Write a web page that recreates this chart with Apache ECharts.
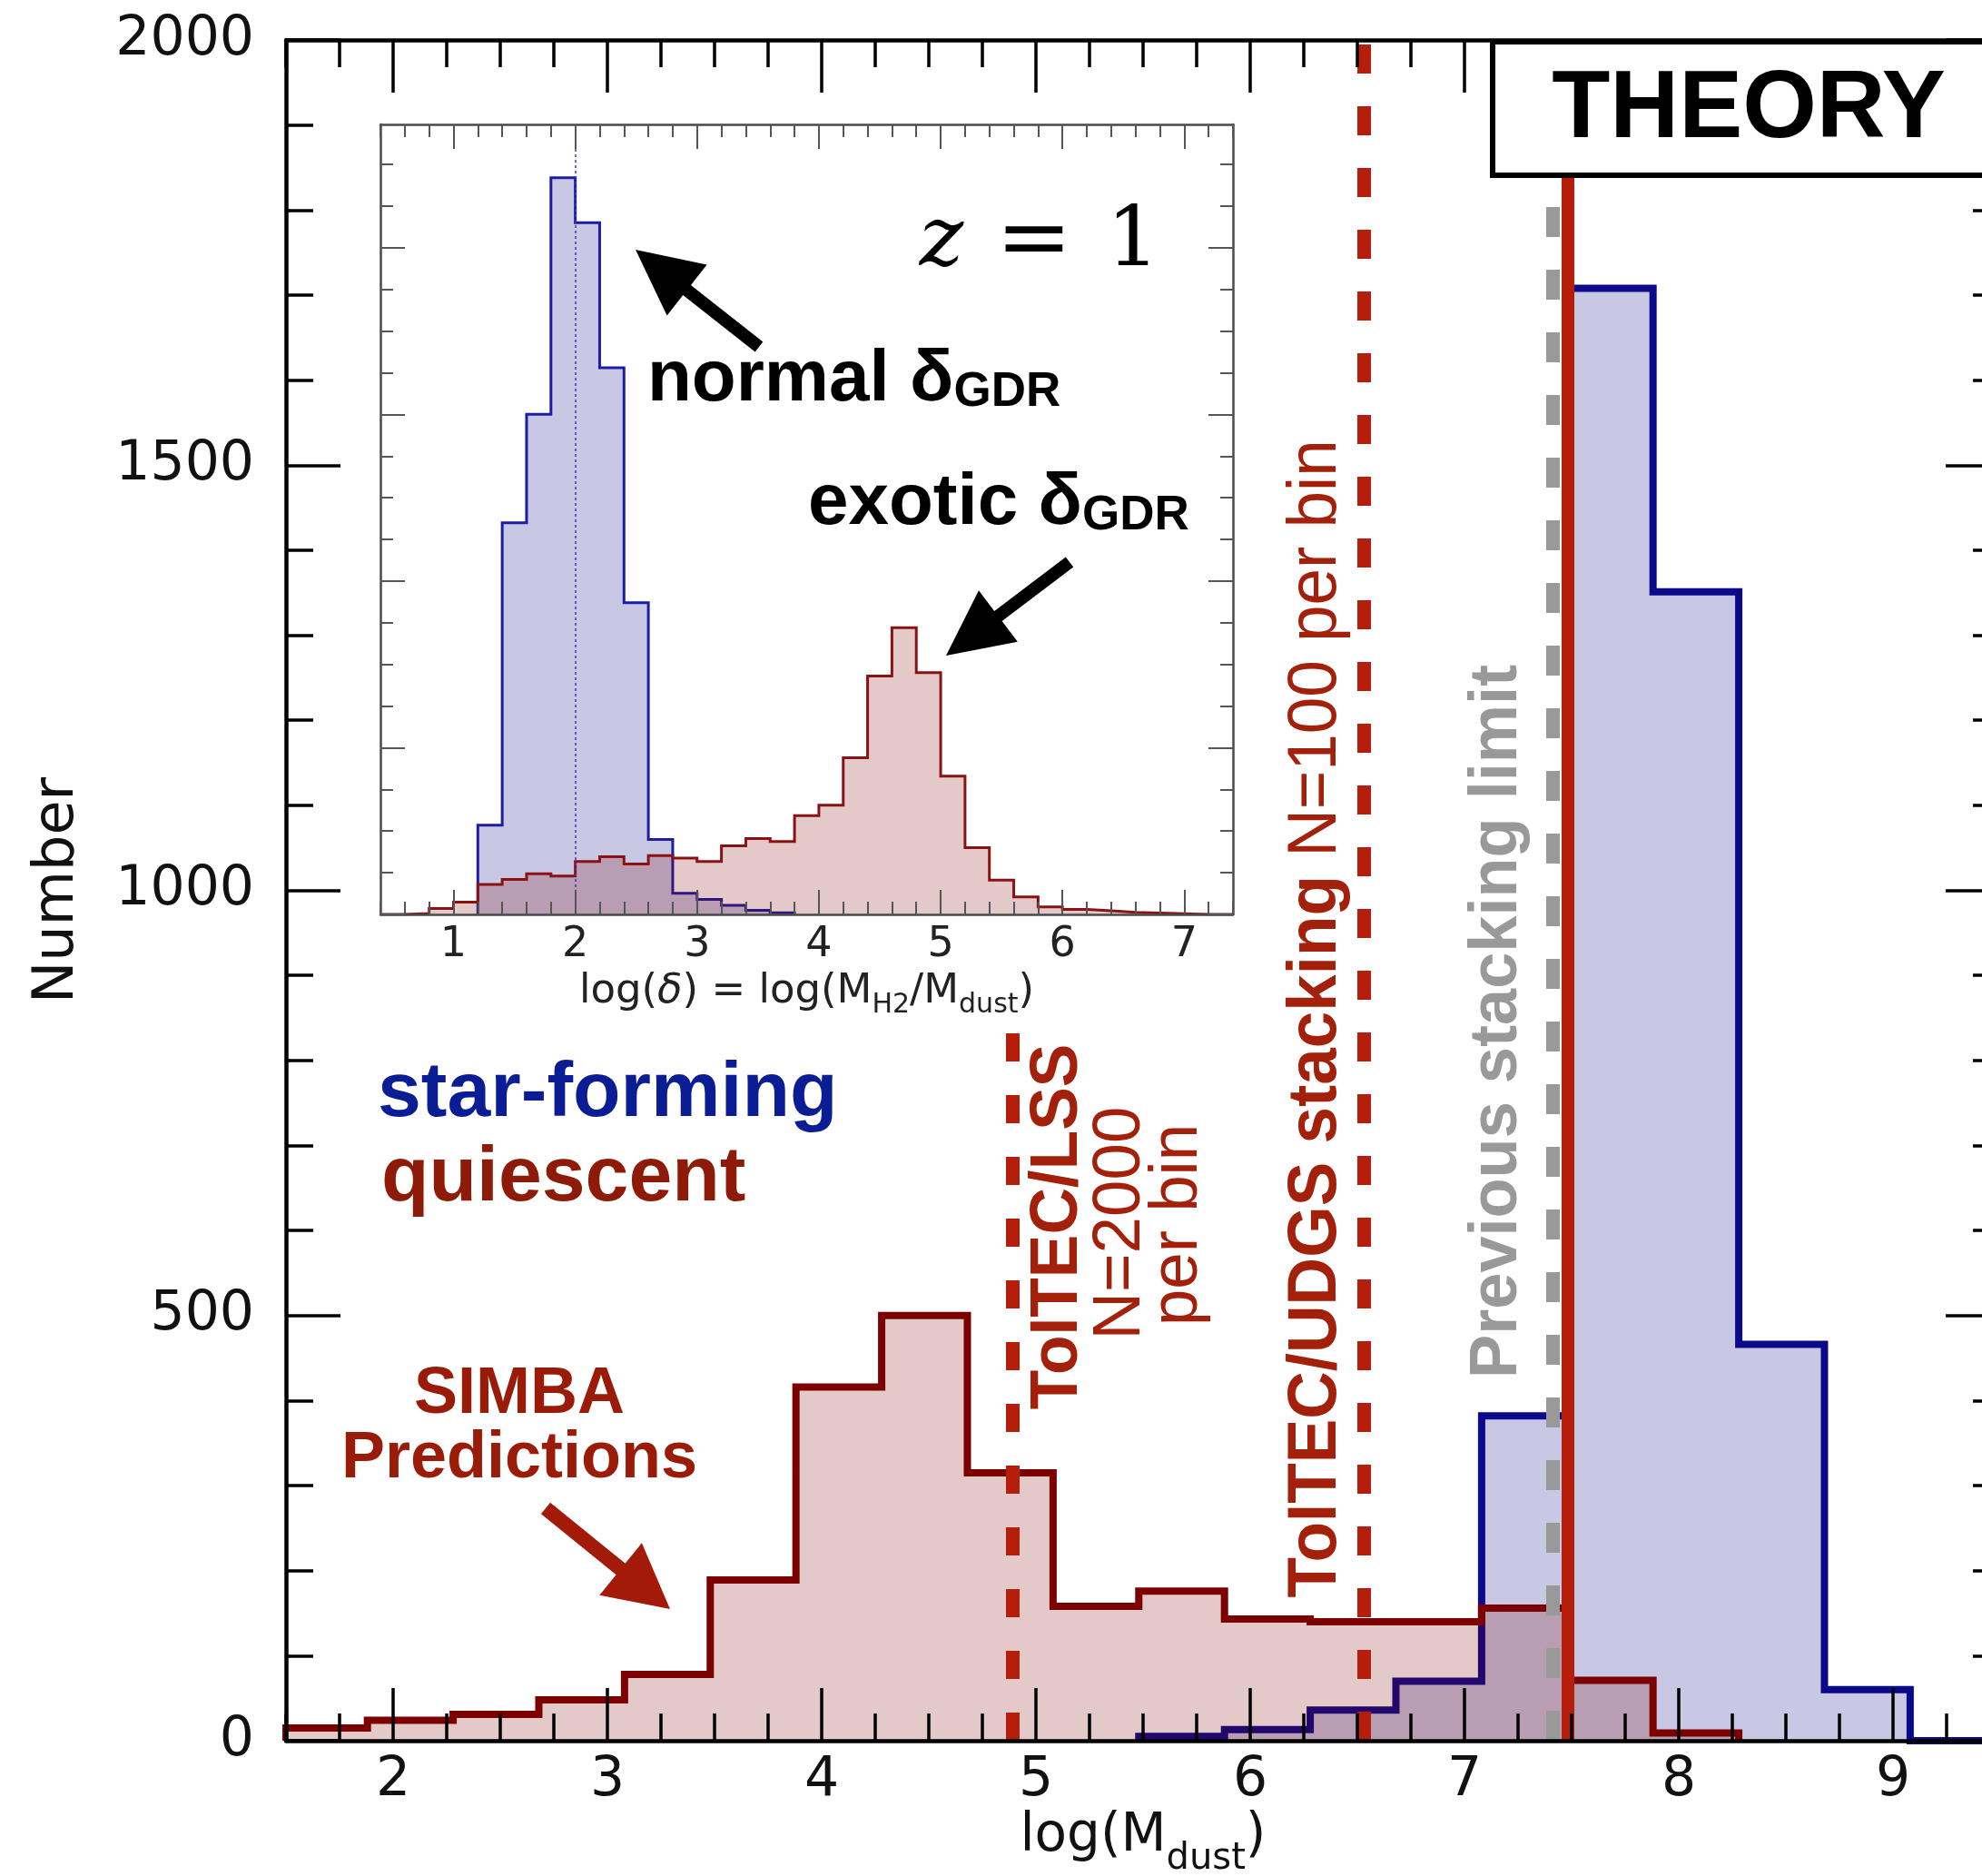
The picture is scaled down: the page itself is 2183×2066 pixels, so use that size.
<!DOCTYPE html>
<html><head><meta charset="utf-8">
<script src="https://cdn.jsdelivr.net/npm/echarts@6/dist/echarts.min.js"></script>
<style>html,body{margin:0;padding:0;background:#fff}#c{width:2183px;height:2066px}</style>
</head><body><div id="c"></div>
<script>
// ---------------- data ----------------
// main histogram: bins of width 0.4 in log(M_dust), first bin starts at 1.48
const mainBinStart = 1.48;
const mainBinWidth = 0.4;
const quiescentCounts = [15, 24, 31, 48, 78, 189, 416, 500, 315, 158, 176, 143, 140, 140, 156, 71, 9];
const starFormingCounts = [null, null, null, null, null, null, null, null, null, null,
  5, 13, 36, 70, 382, 1708, 1351, 466, 60, 0, 0];
const xMajorTicks = [2, 3, 4, 5, 6, 7, 8, 9];
// vertical limit lines (log M_dust)
const lssLimit = 4.89, lssTop = 835;
const udgsLimit = 6.53;
const previousLimit = 7.41;
const theoryLimit = 7.48;
// inset histogram: bins of width 0.2 in log(delta), first bin starts at 0.4 (units of major tick)
const insetBinStart = 0.4;
const insetBinWidth = 0.2;
const insetQuiescent = [0, 0.005, 0.036, 0.073, 0.18, 0.21, 0.244, 0.23, 0.317, 0.346, 0.302, 0.353,
  0.338, 0.317, 0.411, 0.455, 0.437, 0.593, 0.655, 0.94, 1.43, 1.72, 1.45, 0.83, 0.40, 0.205,
  0.105, 0.045, 0.03, 0.022, 0.012, 0.008, 0.004, 0, 0];
const insetStarForming = [null, null, null, null, 0.535, 2.35, 3.0, 4.42, 4.15, 3.28, 1.87, 0.45,
  0.127, 0.09, 0.055, 0.025, 0.01];
const insetXTicks = [1, 2, 3, 4, 5, 6, 7];
const insetNormalGDR = 2;
const insetYMajor = [0, 1, 2, 3, 4];
const insetYMinor = [0.25, 0.5, 0.75, 1.25, 1.5, 1.75, 2.25, 2.5, 2.75, 3.25, 3.5, 3.75, 4.25, 4.5];
const insetYMax = 4.74;

// ---------------- helpers ----------------
function stepData(start, width, vals) {
  const pts = [];
  let first = true, lastX = null;
  vals.forEach((v, i) => {
    if (v === null) return;
    const x = +(start + i * width).toFixed(4);
    if (first) { pts.push([x, 0]); first = false; }
    pts.push([x, v]);
    lastX = +(start + (i + 1) * width).toFixed(4);
  });
  pts.push([lastX, 0]);
  return pts;
}
function txt(x, y, text, o) {
  const st = {
    text: text, fill: o.color || '#000', fontSize: o.size, fontFamily: o.family || 'Liberation Sans',
    fontWeight: o.weight || 'normal', fontStyle: o.fstyle || 'normal',
    align: o.align || 'center', verticalAlign: o.valign || 'middle',
    textAlign: o.align || 'center', textVerticalAlign: o.valign || 'middle'
  };
  if (o.rich) st.rich = o.rich;
  return { type: 'text', x: x, y: y, rotation: o.rot || 0, scaleX: o.sx || 1, scaleY: 1, z: 100, silent: true, style: st };
}
function arrow(tail, tip, color, shaft, headLen, headW) {
  const dx = tip[0] - tail[0], dy = tip[1] - tail[1], L = Math.hypot(dx, dy);
  const ux = dx / L, uy = dy / L, px = -uy, py = ux;
  const bx = tip[0] - ux * headLen, by = tip[1] - uy * headLen;
  const pts = [
    [tail[0] + px * shaft / 2, tail[1] + py * shaft / 2],
    [bx + px * shaft / 2, by + py * shaft / 2],
    [bx + px * headW / 2, by + py * headW / 2],
    [tip[0], tip[1]],
    [bx - px * headW / 2, by - py * headW / 2],
    [bx - px * shaft / 2, by - py * shaft / 2],
    [tail[0] - px * shaft / 2, tail[1] - py * shaft / 2]
  ];
  return { type: 'polygon', z: 100, silent: true, shape: { points: pts }, style: { fill: color } };
}
const MAIN_FONT = 'DejaVu Sans';
function ax(o) {
  return {
    type: 'value', gridIndex: o.grid, position: o.pos, offset: o.offset || 0, min: o.min, max: o.max, z: 10, silent: true,
    interval: o.interval,
    axisLine: { show: !!o.line, onZero: false, lineStyle: { color: o.lineColor || '#000', width: o.lineWidth || 4.5 } },
    axisTick: Object.assign({ show: o.noTicks ? false : true, inside: o.outside ? false : true, length: o.tickLen || 10,
      lineStyle: { color: o.tickColor || '#000', width: o.tickWidth || 3.5 } },
      o.ticks ? { customValues: o.ticks } : {}),
    axisLabel: o.label ? Object.assign({ show: true, margin: o.label.margin, fontSize: o.label.size,
      fontFamily: MAIN_FONT, color: o.label.color || '#111', formatter: v => String(v),
      showMinLabel: true, showMaxLabel: true, hideOverlap: false },
      o.ticks ? { customValues: o.ticks } : {}) : { show: false },
    splitLine: { show: false },
    minorTick: { show: false }, minorSplitLine: { show: false }
  };
}

const MAIN_H = 1873, INSET_H = 870;

// ---------------- axes ----------------
const xMain = ax({ grid: 0, pos: 'bottom', min: 1.5, max: 9.5, line: true, noTicks: true, ticks: xMajorTicks,
  label: { margin: 14, size: 60 } });
xMain.name = '{n|log(M}{s|dust}{n|)}';
xMain.nameLocation = 'middle';
xMain.nameGap = 77;
xMain.nameMoveOverlap = false;
xMain.nameTextStyle = { rich: {
  n: { fontSize: 58, lineHeight: 58, verticalAlign: 'top', fontFamily: MAIN_FONT, color: '#111' },
  s: { fontSize: 40, lineHeight: 40, padding: [34, 0, 0, 0], verticalAlign: 'top', fontFamily: MAIN_FONT, color: '#111' } } };

const yMain = ax({ grid: 0, pos: 'left', min: 0, max: 2000, interval: 500, line: true, tickLen: 60,
  label: { margin: 35, size: 60 } });
yMain.name = 'Number';
yMain.nameLocation = 'middle';
yMain.nameGap = 220;
yMain.nameMoveOverlap = false;
yMain.nameTextStyle = { fontSize: 62, fontFamily: MAIN_FONT, color: '#111' };

const insetCommon = { lineColor: '#4a4a4a', lineWidth: 2.5, tickColor: '#555', tickWidth: 2 };

const xInset = ax(Object.assign({ grid: 1, pos: 'bottom', min: 0.4, max: 7.4, line: true, noTicks: true,
  ticks: insetXTicks, label: { margin: 11, size: 46, color: '#222' } }, insetCommon));
xInset.name = '{n|log(}{i|δ}{n|) = log(M}{s|H2}{n|/M}{s|dust}{n|)}';
xInset.nameLocation = 'middle';
xInset.nameGap = 63;
xInset.nameMoveOverlap = false;
xInset.nameTextStyle = { rich: {
  n: { fontSize: 45, lineHeight: 45, verticalAlign: 'top', fontFamily: MAIN_FONT, color: '#222' },
  i: { fontSize: 45, lineHeight: 45, verticalAlign: 'top', fontFamily: MAIN_FONT, fontStyle: 'italic', color: '#222' },
  s: { fontSize: 30, lineHeight: 30, padding: [22, 0, 0, 0], verticalAlign: 'top', fontFamily: MAIN_FONT, color: '#222' } } };

const xAxes = [
  xMain,
  // top ticks
  ax({ grid: 0, pos: 'top', min: 1.5, max: 9.5, line: true, tickLen: 58, ticks: xMajorTicks }),
  ax({ grid: 0, pos: 'top', min: 1.5, max: 9.5, interval: 0.25, tickLen: 30 }),
  // bottom ticks (pointing up into the plot)
  ax({ grid: 0, pos: 'top', offset: -MAIN_H, outside: true, min: 1.5, max: 9.5, tickLen: 58, ticks: xMajorTicks }),
  ax({ grid: 0, pos: 'top', offset: -MAIN_H, outside: true, min: 1.5, max: 9.5, interval: 0.25, tickLen: 30 }),
  // inset
  xInset,
  ax(Object.assign({ grid: 1, pos: 'top', min: 0.4, max: 7.4, line: true, tickLen: 27, ticks: insetXTicks }, insetCommon)),
  ax(Object.assign({ grid: 1, pos: 'top', min: 0.4, max: 7.4, interval: 0.2, tickLen: 14 }, insetCommon)),
  ax(Object.assign({ grid: 1, pos: 'top', offset: -INSET_H, outside: true, min: 0.4, max: 7.4, tickLen: 27, ticks: insetXTicks }, insetCommon)),
  ax(Object.assign({ grid: 1, pos: 'top', offset: -INSET_H, outside: true, min: 0.4, max: 7.4, interval: 0.2, tickLen: 14 }, insetCommon))
];
const yAxes = [
  yMain,
  ax({ grid: 0, pos: 'left', min: 0, max: 2000, interval: 100, tickLen: 30 }),
  ax({ grid: 0, pos: 'right', min: 0, max: 2000, interval: 500, line: true, tickLen: 60 }),
  ax({ grid: 0, pos: 'right', min: 0, max: 2000, interval: 100, tickLen: 30 }),
  ax(Object.assign({ grid: 1, pos: 'left', min: 0, max: insetYMax, line: true, tickLen: 27, ticks: insetYMajor }, insetCommon)),
  ax(Object.assign({ grid: 1, pos: 'left', min: 0, max: insetYMax, tickLen: 14, ticks: insetYMinor }, insetCommon)),
  ax(Object.assign({ grid: 1, pos: 'right', min: 0, max: insetYMax, line: true, tickLen: 27, ticks: insetYMajor }, insetCommon)),
  ax(Object.assign({ grid: 1, pos: 'right', min: 0, max: insetYMax, tickLen: 14, ticks: insetYMinor }, insetCommon))
];
const INSET_X = 5, INSET_Y = 4;

// ---------------- series ----------------
const RED_LINE = '#b41e0a';
const series = [
  { type: 'line', name: 'star-forming', xAxisIndex: 0, yAxisIndex: 0, step: 'end', symbol: 'none', silent: true, z: 2,
    data: stepData(mainBinStart, mainBinWidth, starFormingCounts),
    lineStyle: { color: '#0a0a8a', width: 8, join: 'miter' }, areaStyle: { color: 'rgba(0,0,128,0.215)', opacity: 1 } },
  { type: 'line', name: 'quiescent', xAxisIndex: 0, yAxisIndex: 0, step: 'end', symbol: 'none', silent: true, z: 3,
    data: stepData(mainBinStart, mainBinWidth, quiescentCounts),
    lineStyle: { color: '#7d0000', width: 8, join: 'miter' }, areaStyle: { color: 'rgba(128,0,0,0.21)', opacity: 1 },
    markLine: { silent: true, symbol: ['none', 'none'], label: { show: false }, animation: false, z: 5,
      emphasis: { disabled: true },
      data: [
        [{ coord: [lssLimit, 0], lineStyle: { color: RED_LINE, width: 15, type: [31, 37] } }, { coord: [lssLimit, lssTop] }],
        [{ coord: [udgsLimit, 0], lineStyle: { color: RED_LINE, width: 15, type: [32, 36] } }, { coord: [udgsLimit, 2000] }],
        [{ coord: [previousLimit, 0], lineStyle: { color: '#999999', width: 15, type: [33, 36] } }, { coord: [previousLimit, 2000] }],
        [{ coord: [theoryLimit, 0], lineStyle: { color: RED_LINE, width: 14, type: 'solid' } }, { coord: [theoryLimit, 2000] }]
      ] } },
  { type: 'line', name: 'inset star-forming', xAxisIndex: INSET_X, yAxisIndex: INSET_Y, step: 'end', symbol: 'none', silent: true, z: 2,
    data: stepData(insetBinStart, insetBinWidth, insetStarForming),
    lineStyle: { color: '#1c1ca6', width: 3, join: 'miter' }, areaStyle: { color: 'rgba(0,0,128,0.215)', opacity: 1 },
    markLine: { silent: true, symbol: ['none', 'none'], label: { show: false }, animation: false, z: 5,
      emphasis: { disabled: true },
      data: [[{ coord: [insetNormalGDR, 0], lineStyle: { color: '#3a3ac0', width: 1.5, type: [3, 3] } }, { coord: [insetNormalGDR, insetYMax] }]] } },
  { type: 'line', name: 'inset quiescent', xAxisIndex: INSET_X, yAxisIndex: INSET_Y, step: 'end', symbol: 'none', silent: true, z: 3,
    data: stepData(insetBinStart, insetBinWidth, insetQuiescent),
    lineStyle: { color: '#8a1212', width: 3, join: 'miter' }, areaStyle: { color: 'rgba(128,0,0,0.21)', opacity: 1 } }
];

// ---------------- annotations ----------------
const DRED = '#a3200a';
const graphics = [
  { type: 'rect', z: 100, silent: true, shape: { x: 1644, y: 46, width: 600, height: 147 },
    style: { fill: '#fff', stroke: '#000', lineWidth: 6 } },
  txt(1926, 122, 'THEORY', { size: 105, weight: 'bold' }),
  txt(416, 1205, 'star-forming', { size: 86, weight: 'bold', color: '#0b1d94', align: 'left' }),
  txt(420, 1298, 'quiescent', { size: 86, weight: 'bold', color: '#8e1b08', align: 'left' }),
  txt(572, 1536, 'SIMBA', { size: 72, weight: 'bold', color: '#9a1c08' }),
  txt(572, 1607, 'Predictions', { size: 72, weight: 'bold', color: '#9a1c08' }),
  arrow([601, 1661], [738, 1772], '#a31b08', 16, 70, 74),
  txt(1165, 1351, 'ToITEC/LSS', { size: 75, weight: 'bold', color: DRED, rot: Math.PI / 2, sx: 0.95 }),
  txt(1234, 1347, 'N=2000', { size: 75, color: DRED, rot: Math.PI / 2, sx: 0.97 }),
  txt(1297, 1349, 'per bin', { size: 75, color: DRED, rot: Math.PI / 2, sx: 0.97 }),
  txt(1450, 1122, '{b|ToITEC/UDGS stacking} {n|N=100 per bin}', { size: 76, color: DRED, rot: Math.PI / 2, sx: 0.958,
    rich: { b: { fontSize: 76, fontWeight: 'bold', fontFamily: 'Liberation Sans' }, n: { fontSize: 76, fontWeight: 'normal', fontFamily: 'Liberation Sans' } } }),
  txt(1650, 1125, 'Previous stacking limit', { size: 74, weight: 'bold', color: '#999999', rot: Math.PI / 2, sx: 0.975 }),
  // inset annotations
  txt(1037, 268, 'z', { size: 92, family: 'DejaVu Serif', fstyle: 'italic' }),
  txt(1139, 268, '=', { size: 100, family: 'DejaVu Serif' }),
  txt(1248, 268, '1', { size: 92, family: 'DejaVu Serif' }),
  txt(713, 379, '{a|normal δ}{b|GDR}', { size: 80, weight: 'bold', align: 'left', valign: 'top',
    rich: { a: { fontSize: 80, lineHeight: 80, fontWeight: 'bold', fontFamily: 'Liberation Sans', verticalAlign: 'top' },
            b: { fontSize: 53, lineHeight: 47, fontWeight: 'bold', fontFamily: 'Liberation Sans', verticalAlign: 'bottom' } } }),
  txt(890, 515, '{a|exotic δ}{b|GDR}', { size: 80, weight: 'bold', align: 'left', valign: 'top',
    rich: { a: { fontSize: 80, lineHeight: 80, fontWeight: 'bold', fontFamily: 'Liberation Sans', verticalAlign: 'top' },
            b: { fontSize: 53, lineHeight: 47, fontWeight: 'bold', fontFamily: 'Liberation Sans', verticalAlign: 'bottom' } } }),
  arrow([836, 382], [700, 275], '#000', 14, 72, 71),
  arrow([1178, 619], [1042, 722], '#000', 14, 72, 71)
];

const option = {
  animation: false,
  backgroundColor: '#fff',
  textStyle: { fontFamily: MAIN_FONT },
  grid: [
    { left: 315, top: 44, width: 1888, height: MAIN_H, containLabel: false, outerBoundsMode: 'none' },
    { left: 419, top: 137, width: 939, height: INSET_H, containLabel: false, outerBoundsMode: 'none' }
  ],
  xAxis: xAxes,
  yAxis: yAxes,
  series: series,
  graphic: { elements: graphics }
};
const chart = echarts.init(document.getElementById('c'), null, { renderer: 'canvas', width: 2183, height: 2066 });
chart.setOption(option);
</script>
</body></html>
